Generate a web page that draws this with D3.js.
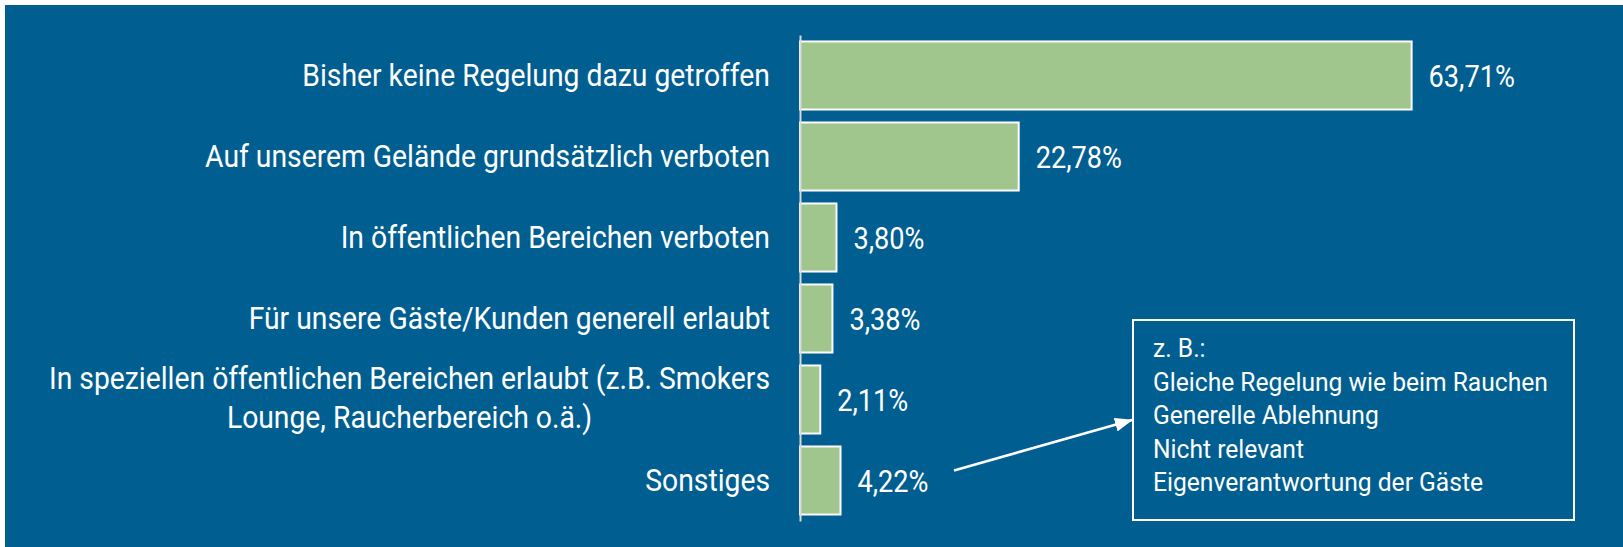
<!DOCTYPE html>
<html>
<head>
<meta charset="utf-8">
<script src="https://cdn.jsdelivr.net/npm/d3@7"></script>
<style>
  body { margin: 0; background: #fff; }
  svg { display: block; font-family: Roboto, "Noto Sans", sans-serif; }
  .lbl { fill: #fff; font-size: 30.5px; }
  .note { fill: #fff; font-size: 25px; }
</style>
</head>
<body>
<svg width="1623" height="547"></svg>
<script>
// data
const categories = [
  "Bisher keine Regelung dazu getroffen",
  "Auf unserem Gelände grundsätzlich verboten",
  "In öffentlichen Bereichen verboten",
  "Für unsere Gäste/Kunden generell erlaubt",
  "In speziellen öffentlichen Bereichen erlaubt (z.B. Smokers\nLounge, Raucherbereich o.ä.)",
  "Sonstiges"
];
const values = [63.71, 22.78, 3.80, 3.38, 2.11, 4.22];
const noteLines = [
  "z. B.:",
  "Gleiche Regelung wie beim Rauchen",
  "Generelle Ablehnung",
  "Nicht relevant",
  "Eigenverantwortung der Gäste"
];

let svg = d3.select("svg");
let width = +svg.attr("width");
let height = +svg.attr("height");
// the original font is a condensed face, Roboto gets squeezed a bit
const squeezeCat = 0.928, squeezeVal = 0.89, squeezeNote = 0.985;

svg.append("rect")
    .attr("x", 5).attr("y", 5)
    .attr("width", width - 5).attr("height", height - 5)
    .attr("fill", "#005e91");

var y = d3.scaleBand()
    .domain(categories)
    .range([35, 521])
    .paddingInner(0.16)
    .paddingOuter(0.08);
var x = d3.scaleLinear()
    .domain([0, 100])
    .range([800, 1760]);

const de = d3.formatLocale({decimal: ",", thousands: ".", grouping: [3], currency: ["", " €"]});
const fmt = (v) => de.format(".2f")(v) + "%";

// bars
svg.append("g")
    .selectAll("rect")
    .data(values)
    .enter().append("rect")
    .attr("x", x(0))
    .attr("y", (d, i) => y(categories[i]))
    .attr("width", (d) => x(d) - x(0))
    .attr("height", y.bandwidth())
    .attr("fill", "#a0c58d")
    .attr("stroke", "#fff")
    .attr("stroke-width", 2);

// axis line
var axis = svg.append("g")
    .attr("transform", `translate(${x(0)},0)`)
    .call(d3.axisLeft(y).tickSize(0).tickFormat(""));
axis.select(".domain").attr("stroke", "#d9d9d9").attr("stroke-width", 2);

// category labels, right aligned left of the axis; wrapped ones centred as a block
var labels = svg.append("g")
    .selectAll("text")
    .data(categories)
    .enter().append("text")
    .attr("class", "lbl")
    .attr("transform", (d) => `translate(${x(0) - 30},${y(d) + y.bandwidth() / 2}) scale(${squeezeCat},1)`);
labels.each(function(d) {
    let lines = d.split("\n");
    let t = d3.select(this);
    if (lines.length == 1) {
        t.attr("text-anchor", "end")
            .append("tspan").attr("x", 0).attr("y", 10.5).text(d);
        return;
    }
    let spans = lines.map((ln, j) => t.append("tspan")
        .attr("y", -11 + j * 40)
        .text(ln));
    let maxW = d3.max(spans, (s) => s.node().getComputedTextLength());
    t.attr("text-anchor", "middle");
    spans.forEach((s) => s.attr("x", -maxW / 2));
});

// value labels
svg.append("g")
    .selectAll("text")
    .data(values)
    .enter().append("text")
    .attr("class", "lbl")
    .attr("transform", (d, i) => `translate(${x(d) + 17},${y(categories[i]) + y.bandwidth() / 2 + 11}) scale(${squeezeVal},1)`)
    .text(fmt);

// annotation box for "Sonstiges"
const box = {x: 1133, y: 320, w: 441, h: 200};
svg.append("rect")
    .attr("x", box.x).attr("y", box.y)
    .attr("width", box.w).attr("height", box.h)
    .attr("fill", "none")
    .attr("stroke", "#fff")
    .attr("stroke-width", 2);
svg.append("g")
    .selectAll("text")
    .data(noteLines)
    .enter().append("text")
    .attr("class", "note")
    .attr("transform", (d, i) => `translate(${box.x + 20},${box.y + 37 + i * 33.5}) scale(${squeezeNote},1)`)
    .text((d) => d);

svg.append("defs").append("marker")
    .attr("id", "head")
    .attr("markerUnits", "userSpaceOnUse")
    .attr("markerWidth", 18).attr("markerHeight", 14)
    .attr("refX", 17).attr("refY", 7)
    .attr("orient", "auto")
    .append("path")
    .attr("d", "M0,0 L18,7 L0,14 z")
    .attr("fill", "#fff");

let last = categories[categories.length - 1];
svg.append("line")
    .attr("x1", 954).attr("y1", y(last) + y.bandwidth() / 2 - 10)
    .attr("x2", box.x - 1).attr("y2", 420)
    .attr("stroke", "#fff")
    .attr("stroke-width", 2.5)
    .attr("marker-end", "url(#head)");
</script>
</body>
</html>
